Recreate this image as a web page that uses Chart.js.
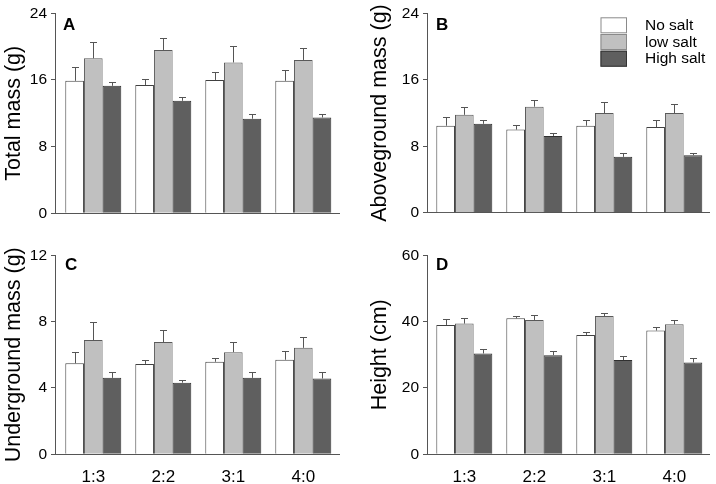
<!DOCTYPE html>
<html><head><meta charset="utf-8">
<script src="https://cdn.jsdelivr.net/npm/chart.js@4"></script>
<style>
html,body{margin:0;padding:0;background:#fff;}
body{width:716px;height:484px;overflow:hidden;position:relative;}
canvas{position:absolute;}
</style></head>
<body>
<canvas id="cA" width="358" height="242" style="left:0;top:0"></canvas>
<canvas id="cB" width="358" height="242" style="left:358px;top:0"></canvas>
<canvas id="cC" width="358" height="242" style="left:0;top:242px"></canvas>
<canvas id="cD" width="358" height="242" style="left:358px;top:242px"></canvas>
<script>
// ---------- data ----------
const categories = ['1:3', '2:2', '3:1', '4:0'];
const seriesNames = ['No salt', 'low salt', 'High salt'];

const totalNo   = [15.9, 15.4, 16.0, 15.9];
const totalLow  = [18.6, 19.6, 18.1, 18.4];
const totalHigh = [15.3, 13.5, 11.35, 11.5];
const totalNoErr   = [1.7, 0.75, 0.9, 1.3];
const totalLowErr  = [1.9, 1.4, 2.0, 1.4];
const totalHighErr = [0.5, 0.5, 0.55, 0.4];

const aboveNo   = [10.47, 10.0, 10.47, 10.3];
const aboveLow  = [11.78, 12.76, 12.0, 12.0];
const aboveHigh = [10.7, 9.24, 6.72, 6.92];
const aboveNoErr   = [1.0, 0.55, 0.67, 0.8];
const aboveLowErr  = [0.98, 0.84, 1.35, 1.08];
const aboveHighErr = [0.44, 0.36, 0.47, 0.31];

const underNo   = [5.49, 5.45, 5.58, 5.70];
const underLow  = [6.89, 6.77, 6.16, 6.42];
const underHigh = [4.61, 4.32, 4.61, 4.57];
const underNoErr   = [0.69, 0.23, 0.24, 0.54];
const underLowErr  = [1.11, 0.72, 0.63, 0.65];
const underHighErr = [0.36, 0.19, 0.36, 0.42];

const heightNo   = [39.0, 41.0, 36.0, 37.3];
const heightLow  = [39.4, 40.5, 41.7, 39.2];
const heightHigh = [30.4, 29.9, 28.4, 27.7];
const heightNoErr   = [1.8, 0.6, 1.0, 1.1];
const heightLowErr  = [1.7, 1.6, 0.9, 1.4];
const heightHighErr = [1.4, 1.1, 1.2, 1.3];

const yTicksTotal  = [0, 8, 16, 24];
const yTicksAbove  = [0, 8, 16, 24];
const yTicksUnder  = [0, 4, 8, 12];
const yTicksHeight = [0, 20, 40, 60];

// ---------- styles ----------
const FONT = "'Liberation Sans', Arial, sans-serif";
Chart.defaults.font.family = FONT;
const fills   = ['#ffffff', '#c0c0c0', '#5f5f5f'];
const borders = ['#404040', '#5a5a5a', '#303030'];
const legendBorders = ['#8a8a8a', '#8a8a8a', '#333333'];

const errorBarPlugin = {
  id: 'errorBars',
  afterDatasetsDraw(chart) {
    const ctx = chart.ctx, ys = chart.scales.y;
    chart.data.datasets.forEach((ds, di) => {
      const meta = chart.getDatasetMeta(di);
      meta.data.forEach((bar, i) => {
        const v = ds.data[i].y, e = ds.errors[i];
        const x = Math.round(bar.x) + 0.5;
        const yb = ys.getPixelForValue(v);
        const yt = Math.round(ys.getPixelForValue(v + e)) + 0.5;
        ctx.save();
        ctx.strokeStyle = '#555';
        ctx.lineWidth = 1;
        ctx.beginPath();
        ctx.moveTo(x, yb); ctx.lineTo(x, yt);
        ctx.moveTo(x - 3.5, yt); ctx.lineTo(x + 3.5, yt);
        ctx.stroke();
        ctx.restore();
      });
    });
  }
};

const letterPlugin = {
  id: 'panelLetter',
  afterDraw(chart, args, opts) {
    const ctx = chart.ctx;
    ctx.save();
    ctx.font = 'bold 17px ' + FONT;
    ctx.fillStyle = '#000';
    ctx.textBaseline = 'alphabetic';
    ctx.textAlign = 'left';
    ctx.fillText(opts.text, opts.x, opts.y);
    ctx.restore();
  }
};

const legendPlugin = {
  id: 'boxLegend',
  afterDraw(chart, args, opts) {
    if (!opts.show) return;
    const ctx = chart.ctx;
    ctx.save();
    chart.data.datasets.forEach((ds, i) => {
      const top = opts.y + i * opts.row;
      ctx.fillStyle = ds.backgroundColor;
      ctx.fillRect(opts.x, top, opts.w, opts.h);
      ctx.strokeStyle = legendBorders[i];
      ctx.lineWidth = 1;
      ctx.strokeRect(opts.x + 0.5, top + 0.5, opts.w - 1, opts.h - 1);
      ctx.fillStyle = '#000';
      ctx.font = '15.5px ' + FONT;
      ctx.textBaseline = 'alphabetic';
      ctx.fillText(ds.label, opts.tx, top + opts.base);
    });
    ctx.restore();
  }
};

function makePanel(id, p) {
  const datasets = p.series.map((vals, si) => ({
    label: seriesNames[si],
    data: vals.map((v, i) => ({ x: i, y: v })),
    errors: p.errors[si],
    backgroundColor: fills[si],
    borderColor: borders[si],
    borderWidth: 1,
    borderSkipped: 'bottom',
    categoryPercentage: 0.8,
    barPercentage: 1.0
  }));
  new Chart(document.getElementById(id), {
    type: 'bar',
    data: { datasets },
    plugins: [errorBarPlugin, letterPlugin, legendPlugin],
    options: {
      responsive: false,
      animation: false,
      layout: { padding: { left: 0, right: p.rp, top: p.top, bottom: 0 } },
      plugins: {
        legend: { display: false },
        tooltip: { enabled: false },
        panelLetter: p.letter,
        boxLegend: p.legend || { show: false }
      },
      scales: {
        x: {
          type: 'linear',
          offset: false,
          bounds: 'data',
          min: p.xmin, max: p.xmax,
          afterBuildTicks: s => { s.ticks = categories.map((c, i) => ({ value: i })); },
          afterFit: s => { s.height = p.xh; },
          ticks: {
            display: p.showX,
            autoSkip: false, maxRotation: 0,
            callback: v => categories[v],
            font: { size: 17 }, color: '#000', padding: 5
          },
          grid: { display: false, offset: false },
          border: { display: true, color: '#555', width: 1 }
        },
        y: {
          min: 0, max: p.yTicks[p.yTicks.length - 1],
          afterBuildTicks: s => { s.ticks = p.yTicks.map(v => ({ value: v })); },
          afterFit: s => { s.width = p.yw; },
          ticks: { font: { size: 15.5 }, color: '#000', padding: 4 },
          grid: { display: true, drawOnChartArea: false, drawTicks: true, tickLength: 4, color: '#555' },
          border: { display: true, color: '#555', width: 1 },
          title: { display: true, text: p.title, color: '#000', font: { size: 21.5 }, padding: { top: p.tp, bottom: 0 } }
        }
      }
    }
  });
}

makePanel('cA', {
  series: [totalNo, totalLow, totalHigh], errors: [totalNoErr, totalLowErr, totalHighErr],
  yTicks: yTicksTotal, title: 'Total mass (g)', showX: false,
  yw: 55, rp: 19, top: 11, xh: 28.7, xmin: -0.547, xmax: 3.51, tp: 1,
  letter: { text: 'A', x: 63, y: 29.5 }
});
makePanel('cB', {
  series: [aboveNo, aboveLow, aboveHigh], errors: [aboveNoErr, aboveLowErr, aboveHighErr],
  yTicks: yTicksAbove, title: 'Aboveground mass (g)', showX: false,
  yw: 69, rp: 6.7, top: 10, xh: 29.3, xmin: -0.533, xmax: 3.5, tp: 9,
  letter: { text: 'B', x: 78, y: 30 },
  legend: { show: true, x: 242.5, y: 17.3, w: 26.5, h: 16, row: 16.7, tx: 287, base: 12.7 }
});
makePanel('cC', {
  series: [underNo, underLow, underHigh], errors: [underNoErr, underLowErr, underHighErr],
  yTicks: yTicksUnder, title: 'Underground mass (g)', showX: true,
  yw: 55, rp: 19, top: 10.3, xh: 29.7, xmin: -0.547, xmax: 3.51, tp: 1,
  letter: { text: 'C', x: 65, y: 28 }
});
makePanel('cD', {
  series: [heightNo, heightLow, heightHigh], errors: [heightNoErr, heightLowErr, heightHighErr],
  yTicks: yTicksHeight, title: 'Height (cm)', showX: true,
  yw: 69, rp: 6.7, top: 10.3, xh: 29.7, xmin: -0.533, xmax: 3.5, tp: 9,
  letter: { text: 'D', x: 78, y: 28 }
});
</script>
</body></html>
